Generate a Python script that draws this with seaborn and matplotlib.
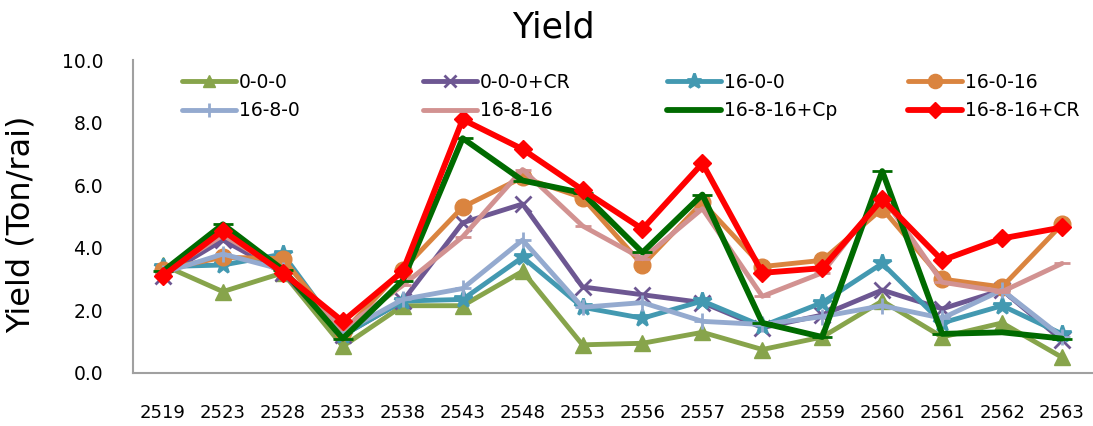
import matplotlib
matplotlib.use("Agg")
import matplotlib.pyplot as plt
import seaborn as sns
import numpy as np
import pandas as pd

years = ["2519", "2523", "2528", "2533", "2538", "2543", "2548", "2553",
         "2556", "2557", "2558", "2559", "2560", "2561", "2562", "2563"]

s_000 = [3.45, 2.6, 3.2, 0.85, 2.15, 2.15, 3.25, 0.9, 0.95, 1.3, 0.75, 1.15, 2.3, 1.15, 1.6, 0.5]
s_000cr = [3.1, 4.25, 3.2, 1.2, 2.3, 4.8, 5.4, 2.75, 2.5, 2.25, 1.45, 1.85, 2.65, 2.05, 2.65, 1.05]
s_1600 = [3.4, 3.45, 3.8, 1.2, 2.3, 2.35, 3.7, 2.1, 1.75, 2.3, 1.5, 2.25, 3.5, 1.6, 2.15, 1.25]
s_16016 = [3.3, 3.7, 3.65, 1.3, 3.3, 5.3, 6.25, 5.6, 3.45, 5.45, 3.4, 3.6, 5.25, 3.0, 2.75, 4.75]
s_1680 = [3.2, 3.8, 3.3, 1.3, 2.35, 2.7, 4.25, 2.1, 2.25, 1.65, 1.55, 1.8, 2.15, 1.75, 2.65, 1.15]
s_16816 = [3.2, 4.4, 3.3, 1.4, 2.8, 4.35, 6.5, 4.7, 3.65, 5.25, 2.45, 3.2, 5.65, 2.9, 2.6, 3.5]
s_16816cp = [3.25, 4.75, 3.3, 1.1, 2.95, 7.5, 6.15, 5.75, 3.85, 5.7, 1.6, 1.15, 6.45, 1.25, 1.3, 1.1]
s_16816cr = [3.1, 4.55, 3.2, 1.65, 3.25, 8.1, 7.15, 5.85, 4.6, 6.7, 3.2, 3.35, 5.55, 3.6, 4.3, 4.65]

names = ["0-0-0", "0-0-0+CR", "16-0-0", "16-0-16",
         "16-8-0", "16-8-16", "16-8-16+Cp", "16-8-16+CR"]
values = [s_000, s_000cr, s_1600, s_16016, s_1680, s_16816, s_16816cp, s_16816cr]
colors = ["#87A44B", "#6D5792", "#4399B1", "#DA843F",
          "#94AACF", "#D29291", "#006A00", "#FF0000"]
markers = ["^", "x", "*", "o", "+", "_", "_", "D"]
msizes = [11, 11, 13, 12, 12, 12, 14, 9]
lws = [3.5, 3.5, 3.5, 3.5, 3.5, 3.5, 4.2, 4.2]

sns.set_theme(style="white")
plt.rcParams['font.family'] = ['DejaVu Sans']
plt.rcParams['text.color'] = 'black'

fig = plt.figure(figsize=(10.93, 4.26), dpi=100)
ax = fig.add_axes([133/1093, 53/426, 959/1093, 313/426])

pos = np.arange(len(years))
handles = []
for name, vals, c, m, ms, lw in zip(names, values, colors, markers, msizes, lws):
    df = pd.DataFrame({"x": pos, "y": vals})
    sns.lineplot(data=df, x="x", y="y", ax=ax, color=c, marker=m,
                 markersize=ms, linewidth=lw, markeredgecolor=c,
                 markeredgewidth=2 if m in ("x", "*", "+", "_") else 1,
                 label=name, legend=False)
    handles.append(ax.lines[-1])

ax.set_xlim(-0.5, len(years) - 0.5)
ax.set_ylim(0, 10)
ax.set_xticks(pos)
ax.set_xticklabels(years, fontsize=13)
ax.set_yticks(np.arange(0, 10.1, 2))
ax.set_yticklabels([f"{v:.1f}" for v in np.arange(0, 10.1, 2)], fontsize=13.5)
ax.set_xlabel("")
ax.set_ylabel("Yield (Ton/rai)", fontsize=23, color="black")
ax.yaxis.set_label_coords(-0.100, 0.475)
ax.tick_params(axis="both", labelcolor="#000000",
               length=3.5, width=1.2, direction="out")
ax.tick_params(axis="x", pad=19, color="#A0A0A0")
ax.tick_params(axis="y", pad=18, color="#A0A0A0")
for sp in ["top", "right"]:
    ax.spines[sp].set_visible(False)
for sp in ["left", "bottom"]:
    ax.spines[sp].set_color("#A0A0A0")
    ax.spines[sp].set_linewidth(1.5)
ax.grid(False)

fig.text(553/1093, 1 - 28/426, "Yield", ha="center", va="center",
         fontsize=25, color="black")

col_x = [182, 423, 667, 908]
for ci in range(4):
    idx = [ci, ci + 4]
    leg = fig.legend([handles[i] for i in idx], [names[i] for i in idx],
                     loc="upper left", bbox_to_anchor=(col_x[ci]/1093, 1 - 73/426),
                     frameon=False, fontsize=13.5, handlelength=2.9,
                     handletextpad=0.15, labelspacing=0.5,
                     borderpad=0, borderaxespad=0)
    for h in leg.legend_handles:
        h.set_markersize(h.get_markersize() * 0.85)

fig.savefig("out.png", dpi=100)
